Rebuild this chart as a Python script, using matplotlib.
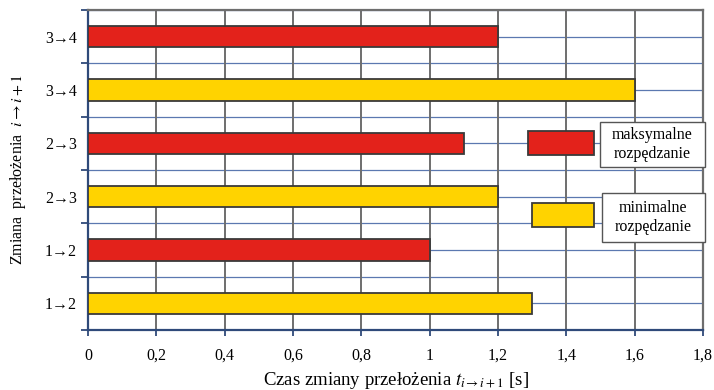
import matplotlib.pyplot as plt
from matplotlib.patches import Rectangle
from matplotlib.ticker import FuncFormatter

# data (bottom to top)
labels = ['1→2', '1→2', '2→3', '2→3', '3→4', '3→4']
times = [1.3, 1.0, 1.2, 1.1, 1.6, 1.2]
kinds = ['min', 'max', 'min', 'max', 'min', 'max']

colors = {'max': '#E3221B', 'min': '#FFD300'}

plt.rcParams['font.family'] = ['Liberation Serif', 'DejaVu Serif']
plt.rcParams['mathtext.fontset'] = 'stix'

fig = plt.figure(figsize=(7.14, 3.9), dpi=100)
ax = fig.add_axes([88 / 714, 60 / 390, 615 / 714, 320 / 390])

ypos = list(range(len(labels)))
ax.barh(ypos, times, height=0.4, color=[colors[k] for k in kinds],
        edgecolor='#3a3a3a', linewidth=1.3, zorder=3)

ax.set_xlim(0, 1.8)
ax.set_ylim(-0.5, len(labels) - 0.5)

# grid: gray verticals, blue horizontals every half category
ax.set_xticks([i * 0.2 for i in range(10)])
ax.xaxis.set_major_formatter(FuncFormatter(
    lambda v, p: ('%g' % round(v, 1)).replace('.', ',')))
ax.grid(axis='x', color='#6e6e6e', linewidth=1.4, zorder=0)
for i in range(len(labels) * 2 + 1):
    ax.axhline(-0.5 + i * 0.5, color='#5b78b0', linewidth=0.9, zorder=1)

ax.set_yticks(ypos)
ax.set_yticklabels(labels)
ax.set_yticks([i - 0.5 for i in range(len(labels) + 1)], minor=True)
ax.tick_params(axis='y', which='major', length=0, pad=8, labelsize=11.5)
ax.tick_params(axis='y', which='minor', length=5, width=1.3, color='#2f4a7a')
ax.tick_params(axis='x', length=4, width=1.3, color='#2f4a7a', pad=9,
               labelsize=11.5)

for side in ['left', 'bottom']:
    ax.spines[side].set_color('#2f4a7a')
    ax.spines[side].set_linewidth(1.6)
for side in ['top', 'right']:
    ax.spines[side].set_color('#6e6e6e')
    ax.spines[side].set_linewidth(1.6)

ax.set_xlabel(r'Czas zmiany przełożenia $t_{i\rightarrow i+1}$ [s]',
              fontsize=13.5, labelpad=4)
ax.set_ylabel(r'Zmiana  przełożenia  $i\rightarrow i+1$', fontsize=11.5,
              labelpad=12)


# legend built from boxes in pixel positions
def px_rect(x0, y0, x1, y1, **kw):
    r = Rectangle((x0 / 714, 1 - y1 / 390), (x1 - x0) / 714, (y1 - y0) / 390,
                  transform=fig.transFigure, zorder=5, **kw)
    fig.patches.append(r)


px_rect(528, 131, 594, 155, facecolor=colors['max'], edgecolor='#3a3a3a',
        linewidth=1.3)
px_rect(600, 122, 705, 167, facecolor='white', edgecolor='#555555',
        linewidth=1.0)
fig.text(652 / 714, 1 - 144.5 / 390, 'maksymalne\nrozpędzanie', ha='center',
         va='center', fontsize=11.5, linespacing=1.25, zorder=6)

px_rect(532, 203, 594, 227, facecolor=colors['min'], edgecolor='#3a3a3a',
        linewidth=1.3)
px_rect(602, 193, 705, 242, facecolor='white', edgecolor='#555555',
        linewidth=1.0)
fig.text(653 / 714, 1 - 217.5 / 390, 'minimalne\nrozpędzanie', ha='center',
         va='center', fontsize=11.5, linespacing=1.25, zorder=6)

fig.savefig('out.png', dpi=100)
